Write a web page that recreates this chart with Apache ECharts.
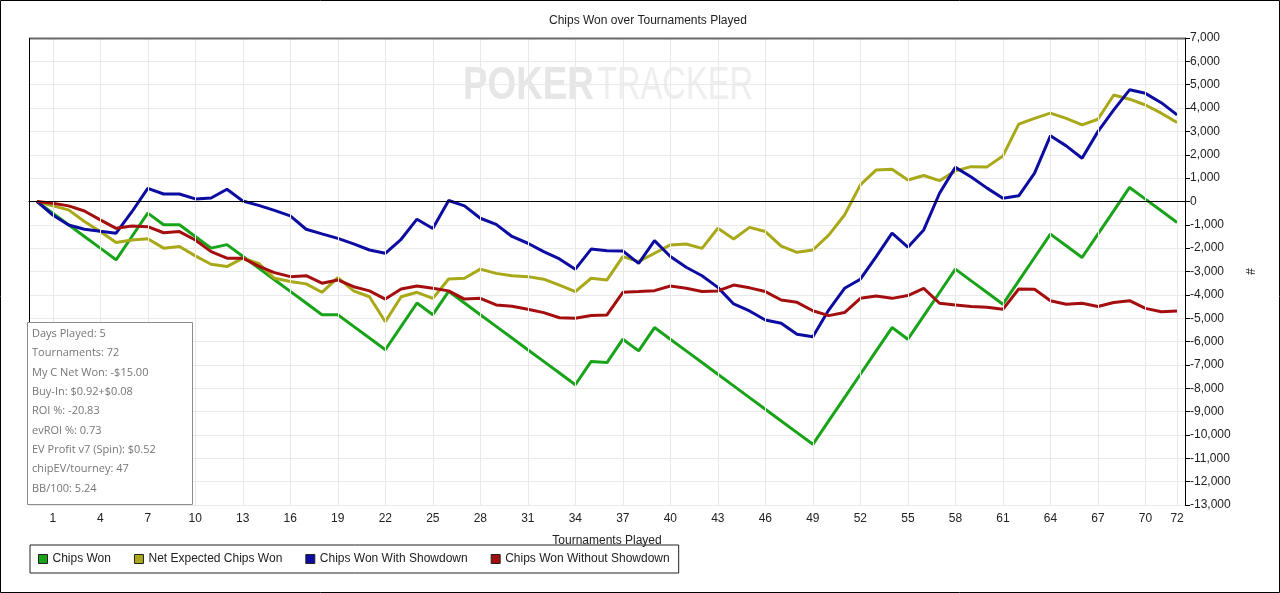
<!DOCTYPE html>
<html>
<head>
<meta charset="utf-8">
<script src="https://cdn.jsdelivr.net/npm/echarts@6/dist/echarts.min.js"></script>
<style>
  html, body { margin: 0; padding: 0; background: #fff; }
  #chart { width: 1280px; height: 593px; }
</style>
</head>
<body>
<div id="chart"></div>
<script>
var myChart = echarts.init(document.getElementById('chart'));

// tournaments played (0 = start)
var tournaments = [0, 1, 2, 3, 4, 5, 6, 7, 8, 9, 10, 11, 12, 13, 14, 15, 16, 17, 18, 19,
  20, 21, 22, 23, 24, 25, 26, 27, 28, 29, 30, 31, 32, 33, 34, 35, 36, 37, 38, 39,
  40, 41, 42, 43, 44, 45, 46, 47, 48, 49, 50, 51, 52, 53, 54, 55, 56, 57, 58, 59,
  60, 61, 62, 63, 64, 65, 66, 67, 68, 69, 70, 71, 72];

// ticks / vertical grid lines
var tickLabels = [1, 4, 7, 10, 13, 16, 19, 22, 25, 28, 31, 34, 37, 40, 43, 46, 49,
  52, 55, 58, 61, 64, 67, 70, 72];

var chipsWon = [0, -500, -1000, -1500, -2000, -2500, -1500, -500, -1000, -1000,
  -1500, -2000, -1850, -2350, -2850, -3350, -3850, -4350, -4850, -4850,
  -5350, -5850, -6350, -5350, -4350, -4850, -3850, -4350, -4850, -5350,
  -5850, -6350, -6850, -7350, -7850, -6850, -6900, -5900, -6400, -5400,
  -5900, -6400, -6900, -7400, -7900, -8400, -8900, -9400, -9900, -10400,
  -9400, -8400, -7400, -6400, -5400, -5900, -4900, -3900, -2900, -3400,
  -3900, -4400, -3400, -2400, -1400, -1900, -2400, -1400, -400, 600,
  100, -400, -900];

var netExpected = [0, -190, -360, -860, -1290, -1760, -1650, -1600, -2000, -1930,
  -2330, -2690, -2790, -2430, -2650, -3290, -3430, -3530, -3890, -3260,
  -3830, -4080, -5150, -4080, -3890, -4150, -3320, -3290, -2900, -3080,
  -3180, -3220, -3330, -3580, -3860, -3290, -3360, -2360, -2580, -2220,
  -1860, -1820, -2010, -1150, -1610, -1110, -1290, -1910, -2180, -2080,
  -1440, -580, 710, 1350, 1380, 920, 1110, 890, 1310, 1490,
  1480, 1950, 3310, 3560, 3780, 3560, 3280, 3520, 4560, 4380,
  4130, 3780, 3380];

var withShowdown = [0, -580, -1010, -1190, -1280, -1360, -440, 560, 320, 320,
  110, 150, 520, 20, -170, -380, -620, -1190, -1390, -1580,
  -1820, -2080, -2220, -1620, -760, -1160, 40, -190, -720, -980,
  -1500, -1790, -2150, -2460, -2900, -2040, -2110, -2120, -2650, -1680,
  -2360, -2820, -3180, -3680, -4390, -4690, -5080, -5220, -5690, -5790,
  -4650, -3720, -3330, -2360, -1360, -1960, -1220, 350, 1460, 1050,
  570, 140, 240, 1210, 2810, 2380, 1850, 2990, 3920, 4780,
  4630, 4230, 3710];

var withoutShowdown = [0, -80, -190, -410, -790, -1150, -1050, -1080, -1340, -1290,
  -1650, -2150, -2430, -2430, -2770, -3050, -3220, -3180, -3500, -3360,
  -3650, -3830, -4180, -3750, -3620, -3720, -3830, -4180, -4150, -4430,
  -4490, -4620, -4760, -4980, -5000, -4880, -4860, -3890, -3860, -3820,
  -3620, -3720, -3860, -3830, -3580, -3700, -3860, -4220, -4320, -4680,
  -4890, -4760, -4150, -4050, -4150, -4030, -3720, -4360, -4430, -4500,
  -4530, -4620, -3750, -3760, -4250, -4400, -4360, -4500, -4330, -4250,
  -4580, -4720, -4690];

var seriesNames = ['Chips Won', 'Net Expected Chips Won', 'Chips Won With Showdown', 'Chips Won Without Showdown'];
var seriesColors = ['#19a319', '#a8a818', '#0c0ca2', '#a40e0e'];

var infoLines = ['Days Played: 5', 'Tournaments: 72', 'My C Net Won: -$15.00', 'Buy-In: $0.92+$0.08',
  'ROI %: -20.83', 'evROI %: 0.73', 'EV Profit v7 (Spin): $0.52', 'chipEV/tourney: 47', 'BB/100: 5.24'];

var FONT = 'Liberation Sans, Arial, sans-serif';

function showTick(index) {
    return tickLabels.indexOf(index) >= 0;
}

function makeSeries(name, data, i) {
    return {
        name: name,
        type: 'line',
        data: data,
        symbol: 'none',
        smooth: false,
        silent: true,
        z: 3,
        color: seriesColors[i],
        lineStyle: { width: 3, color: seriesColors[i] },
        emphasis: { disabled: true }
    };
}

// grid lines + zero line on a data-less helper series, kept under the curves
var gridSeries = {
    name: 'grid',
    type: 'line',
    data: [],
    silent: true,
    z: 1,
    markLine: {
        silent: true,
        symbol: 'none',
        label: { show: false },
        animation: false,
        data: tickLabels.map(function (t) {
            return { xAxis: String(t), lineStyle: { color: '#e9e9e9', width: 1, type: 'solid' } };
        }).concat([{ yAxis: 0, lineStyle: { color: '#000', width: 1, type: 'solid' } }])
    }
};

var graphics = [
    // watermark
    {
        type: 'text', x: 463, y: 86, z: -10, scaleX: 0.80,
        style: { text: 'POKER', fill: '#e6e6e6', font: 'bold 46px ' + FONT, textVerticalAlign: 'middle' }
    },
    {
        type: 'text', x: 597, y: 86, z: -10, scaleX: 0.71,
        style: { text: 'TRACKER', fill: '#eeeeee', font: '46px ' + FONT, textVerticalAlign: 'middle' }
    },
    // plot frame: top and left
    {
        type: 'line', z: 20,
        shape: { x1: 29, y1: 38.5, x2: 1185, y2: 38.5 },
        style: { stroke: '#6a6a6a', lineWidth: 2 }
    },
    {
        type: 'line', z: 20,
        shape: { x1: 29.5, y1: 38, x2: 29.5, y2: 505 },
        style: { stroke: '#000', lineWidth: 1 }
    },
    // stats box
    {
        type: 'rect', z: 30,
        shape: { x: 27.5, y: 322.5, width: 165, height: 182 },
        style: { fill: '#fff', stroke: '#8c8c8c', lineWidth: 1 }
    },
    // outer border
    {
        type: 'rect', z: 40,
        shape: { x: 0.5, y: 0.5, width: 1279, height: 592 },
        style: { fill: 'none', stroke: '#000', lineWidth: 1 }
    }
];

infoLines.forEach(function (t, i) {
    graphics.push({
        type: 'text',
        z: 35,
        x: 32,
        y: 334 + i * 19.3,
        style: {
            text: t,
            fill: '#767676',
            font: '11px "Open Sans", sans-serif',
            textVerticalAlign: 'middle'
        }
    });
});

option = {
    backgroundColor: '#fff',
    animation: false,
    title: {
        text: 'Chips Won over Tournaments Played',
        left: 549,
        top: 15,
        padding: 0,
        textStyle: { fontFamily: FONT, fontSize: 12, fontWeight: 'normal', color: '#222' }
    },
    legend: {
        data: seriesNames,
        left: 30,
        top: 545,
        padding: [8, 9, 8, 8],
        borderColor: '#222',
        borderWidth: 1,
        icon: 'rect',
        itemWidth: 9,
        itemHeight: 9,
        itemGap: 23,
        itemStyle: { borderColor: '#222', borderWidth: 1 },
        selectedMode: false,
        textStyle: { fontFamily: FONT, fontSize: 12, color: '#222' }
    },
    grid: {
        left: 29,
        right: 95,
        top: 38,
        bottom: 88
    },
    xAxis: {
        type: 'category',
        data: tournaments.map(String),
        boundaryGap: true,
        name: 'Tournaments Played',
        nameLocation: 'middle',
        nameGap: 30,
        nameTextStyle: { fontFamily: FONT, fontSize: 12, color: '#222' },
        axisLine: { lineStyle: { color: '#000', width: 1 } },
        axisTick: { alignWithLabel: true, interval: showTick, length: 5, lineStyle: { color: '#000' } },
        axisLabel: { interval: showTick, margin: 8, fontFamily: FONT, fontSize: 12, color: '#222' },
        splitLine: { show: false }
    },
    yAxis: {
        type: 'value',
        position: 'right',
        min: -13000,
        max: 7000,
        interval: 1000,
        name: '#',
        nameLocation: 'middle',
        nameGap: 58,
        nameRotate: -90,
        nameTextStyle: { fontFamily: FONT, fontSize: 12, color: '#222' },
        axisLine: { show: true, lineStyle: { color: '#000', width: 1 } },
        axisTick: { show: true, length: 5, lineStyle: { color: '#000' } },
        axisLabel: {
            margin: 5,
            fontFamily: FONT,
            fontSize: 12,
            color: '#222',
            formatter: function (v) { return v.toLocaleString('en-US'); }
        },
        splitLine: { show: true, lineStyle: { color: '#e9e9e9', width: 1 } }
    },
    graphic: graphics,
    series: [
        gridSeries,
        makeSeries(seriesNames[0], chipsWon, 0),
        makeSeries(seriesNames[1], netExpected, 1),
        makeSeries(seriesNames[2], withShowdown, 2),
        makeSeries(seriesNames[3], withoutShowdown, 3)
    ]
};
myChart.setOption(option);
</script>
</body>
</html>
